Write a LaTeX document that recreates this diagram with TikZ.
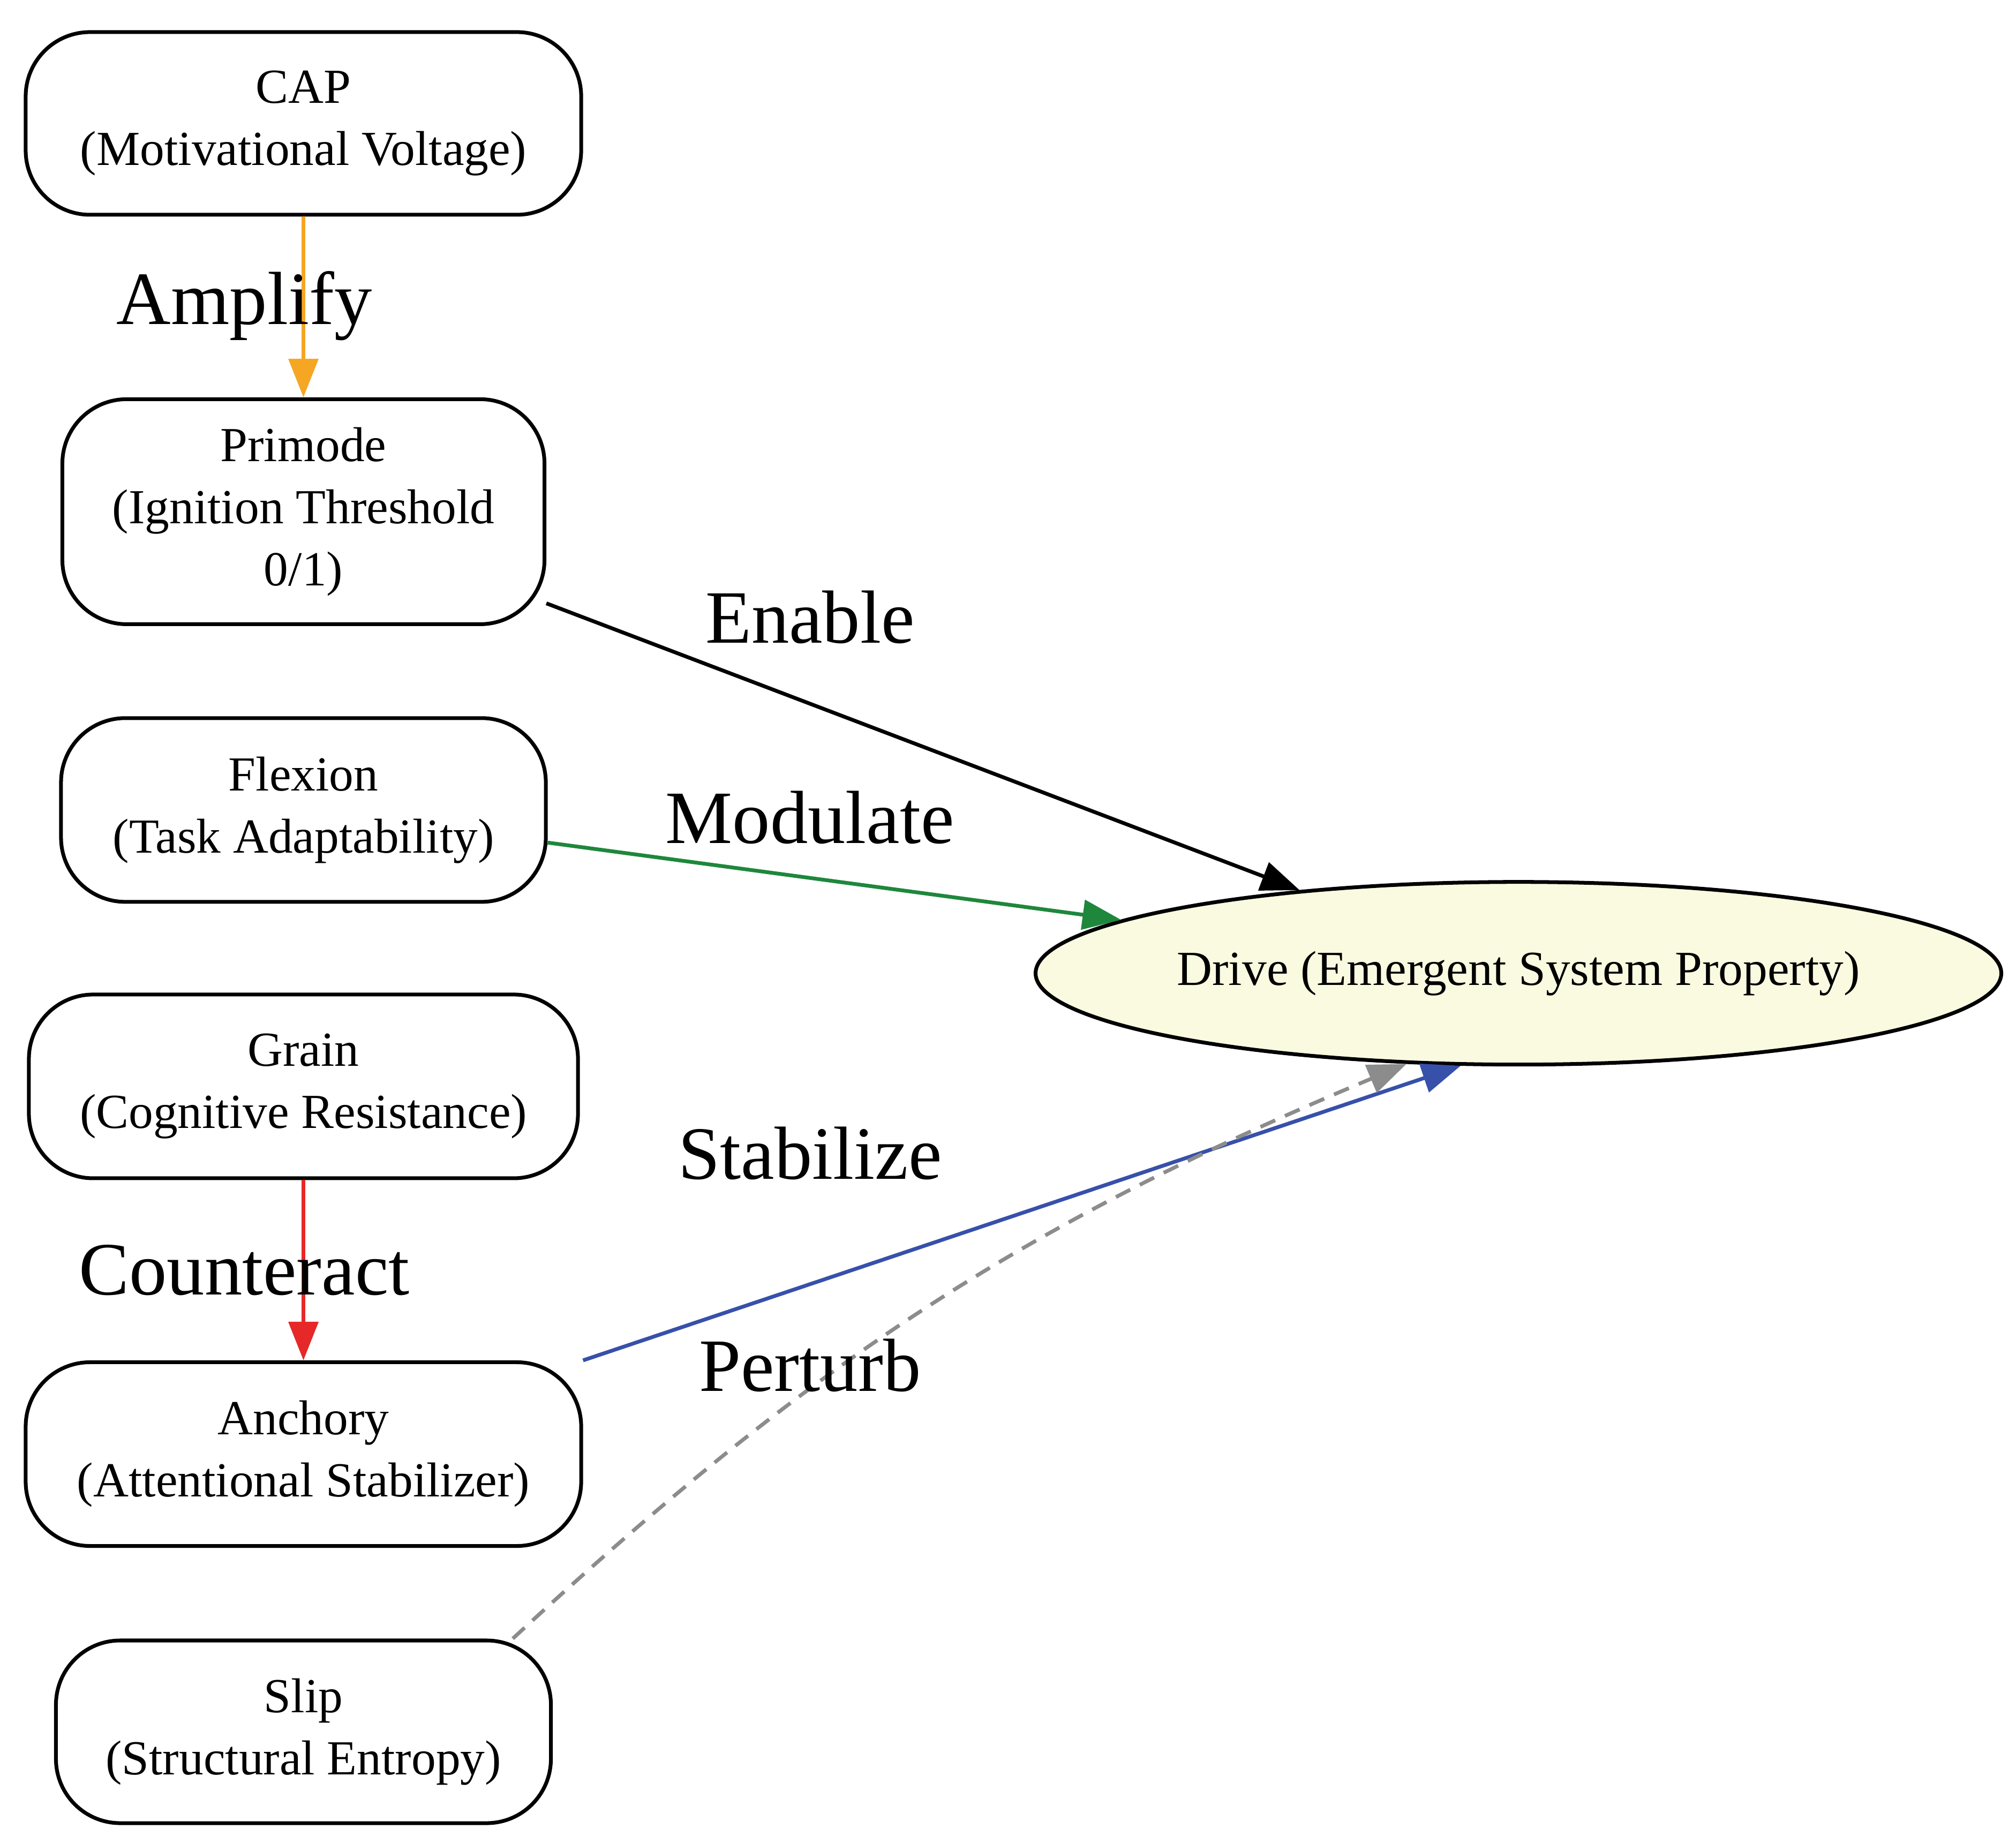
\documentclass[tikz,border=0pt]{standalone}
\usepackage{fontspec}
\setmainfont{Liberation Serif}
\usetikzlibrary{shapes.geometric,arrows.meta}
\definecolor{cOrange}{RGB}{245,166,35}
\definecolor{cGreen}{RGB}{30,135,60}
\definecolor{cBlue}{RGB}{55,80,170}
\definecolor{cRed}{RGB}{230,40,40}
\definecolor{cGray}{RGB}{140,140,140}
\definecolor{cFill}{RGB}{250,250,225}
\begin{document}
\begin{tikzpicture}[x=0.024cm,y=-0.024cm,
  box/.style={draw,line width=2pt,rounded corners=1.2cm,align=center,inner sep=0pt,font=\fontsize{26}{33}\selectfont},
  lbl/.style={font=\fontsize{40}{46}\selectfont},
  arr/.style={line width=2pt,-{Triangle[length=0.72cm,width=0.55cm]}}]
\useasboundingbox (0,0) rectangle (1568,1434);
\node[box,minimum width=10.37cm,minimum height=3.41cm] (cap) at (236,96) {CAP\\(Motivational Voltage)};
\node[box,minimum width=9.0cm,minimum height=4.2cm] (primode) at (236,398) {Primode\\(Ignition Threshold\\0/1)};
\node[box,minimum width=9.05cm,minimum height=3.43cm] (flexion) at (236,630) {Flexion\\(Task Adaptability)};
\node[box,minimum width=10.25cm,minimum height=3.43cm] (grain) at (236,845) {Grain\\(Cognitive Resistance)};
\node[box,minimum width=10.37cm,minimum height=3.43cm] (anchory) at (236,1131) {Anchory\\(Attentional Stabilizer)};
\node[box,minimum width=9.24cm,minimum height=3.41cm] (slip) at (236,1347) {Slip\\(Structural Entropy)};
\node[draw,ellipse,line width=2pt,fill=cFill,inner sep=0pt,minimum width=17.93cm,minimum height=3.41cm,font=\fontsize{26}{33}\selectfont] (drive) at (1181,757) {Drive (Emergent System Property)};
\draw[arr,cOrange] (cap) -- (primode);
\draw[arr,cRed] (grain) -- (anchory);
\draw[arr,black] (primode) -- (drive);
\draw[arr,cGreen] (flexion) -- (drive);
\draw[arr,cBlue] (anchory.north east) -- (drive.238);
\draw[arr,cGray,dash pattern=on 0.3cm off 0.2cm,-{Triangle[length=0.72cm,width=0.55cm]}] (slip.24) to[bend left=10] (drive.219);
\node[lbl] (l1) at (190,238) {Amplify};
\node[lbl] (l2) at (630,480) {Enable};
\node[lbl] (l3) at (630,636) {Modulate};
\node[lbl] (l4) at (630,897) {Stabilize};
\node[lbl] (l5) at (630,1062) {Perturb};
\node[lbl] (l6) at (190,988) {Counteract};
\end{tikzpicture}
\end{document}
